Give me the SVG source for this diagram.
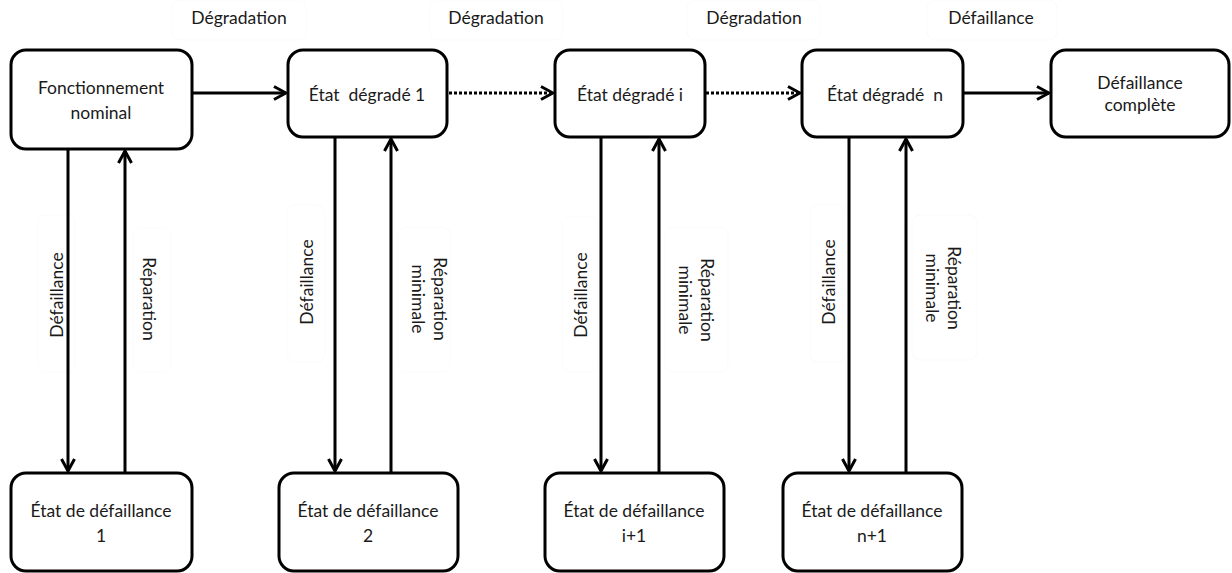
<svg xmlns="http://www.w3.org/2000/svg" width="1232" height="573" viewBox="0 0 1232 573">
  <defs>
    <marker id="head" markerUnits="userSpaceOnUse" markerWidth="16" markerHeight="16" viewBox="0 0 16 16" refX="14" refY="8" orient="auto">
      <path d="M2,1.5 L14,8 L2,14.5" fill="none" stroke="#000" stroke-width="3" stroke-linejoin="miter"/>
    </marker>
    <style>
      .box { fill: #fff; stroke: #000; stroke-width: 3; }
      .tag { fill: none; stroke: #fbfbfb; stroke-width: 1; }
      .lbl { font-family: Lato, "Liberation Sans", sans-serif; font-size: 17.5px; fill: #1a1a1a; text-anchor: middle; }
      .wire { fill: none; stroke: #000; stroke-width: 3; marker-end: url(#head); }
      .dots { stroke-dasharray: 3 2; }
    </style>
  </defs>

  <rect width="1232" height="573" fill="#fff"/>

  <!-- faint label frames -->
  <g id="label-frames">
    <rect class="tag" x="172" y="0" width="134" height="40" rx="8"/>
    <rect class="tag" x="430" y="0" width="133" height="40" rx="8"/>
    <rect class="tag" x="687" y="0" width="133" height="40" rx="8"/>
    <rect class="tag" x="927" y="0" width="130" height="40" rx="8"/>
    <rect class="tag" x="38" y="215" width="37" height="157" rx="8"/>
    <rect class="tag" x="133" y="228" width="38" height="144" rx="8"/>
    <rect class="tag" x="287" y="205" width="38" height="157" rx="8"/>
    <rect class="tag" x="398" y="227" width="52" height="145" rx="8"/>
    <rect class="tag" x="562" y="217" width="36" height="155" rx="8"/>
    <rect class="tag" x="665" y="227" width="63" height="145" rx="8"/>
    <rect class="tag" x="810" y="205" width="37" height="157" rx="8"/>
    <rect class="tag" x="912" y="215" width="65" height="145" rx="8"/>
  </g>

  <!-- connectors -->
  <g id="connectors">
    <line class="wire" x1="193" y1="93" x2="286" y2="93"/>
    <line class="wire dots" x1="449" y1="93" x2="553" y2="93"/>
    <line class="wire dots" x1="706" y1="93" x2="800" y2="93"/>
    <line class="wire" x1="964" y1="93" x2="1049" y2="93"/>

    <line class="wire" x1="68" y1="150" x2="68" y2="471"/>
    <line class="wire" x1="125" y1="472" x2="125" y2="151"/>
    <line class="wire" x1="335" y1="138" x2="335" y2="471"/>
    <line class="wire" x1="391" y1="472" x2="391" y2="139"/>
    <line class="wire" x1="601" y1="138" x2="601" y2="471"/>
    <line class="wire" x1="659" y1="472" x2="659" y2="139"/>
    <line class="wire" x1="849" y1="138" x2="849" y2="471"/>
    <line class="wire" x1="906" y1="472" x2="906" y2="139"/>
  </g>

  <!-- connector labels -->
  <g id="connector-labels">
    <text class="lbl" x="239" y="24">Dégradation</text>
    <text class="lbl" x="496" y="24">Dégradation</text>
    <text class="lbl" x="754" y="24">Dégradation</text>
    <text class="lbl" x="991" y="24">Défaillance</text>

    <text class="lbl" transform="translate(63,295) rotate(-90)">Défaillance</text>
    <text class="lbl" transform="translate(143,299) rotate(90)">Réparation</text>
    <text class="lbl" transform="translate(313,282) rotate(-90)">Défaillance</text>
    <text class="lbl" transform="translate(434,299) rotate(90)"><tspan x="0" y="0">Réparation</tspan><tspan x="0" y="22">minimale</tspan></text>
    <text class="lbl" transform="translate(587,295) rotate(-90)">Défaillance</text>
    <text class="lbl" transform="translate(701,300) rotate(90)"><tspan x="0" y="0">Réparation</tspan><tspan x="0" y="22">minimale</tspan></text>
    <text class="lbl" transform="translate(835,282) rotate(-90)">Défaillance</text>
    <text class="lbl" transform="translate(948,288) rotate(90)"><tspan x="0" y="0">Réparation</tspan><tspan x="0" y="22">minimale</tspan></text>
  </g>

  <!-- top row states -->
  <g id="nominal">
    <rect class="box" x="11" y="50" width="181" height="99" rx="15"/>
    <text class="lbl" x="101" y="94">Fonctionnement</text>
    <text class="lbl" x="101" y="119">nominal</text>
  </g>
  <g id="degrade-1">
    <rect class="box" x="288" y="50" width="159" height="87" rx="15"/>
    <text class="lbl" x="367" y="101" xml:space="preserve">État  dégradé 1</text>
  </g>
  <g id="degrade-i">
    <rect class="box" x="555" y="50" width="150" height="87" rx="15"/>
    <text class="lbl" x="630" y="101">État dégradé i</text>
  </g>
  <g id="degrade-n">
    <rect class="box" x="802" y="50" width="161" height="87" rx="15"/>
    <text class="lbl" x="885" y="101" xml:space="preserve">État dégradé  n</text>
  </g>
  <g id="defaillance-complete">
    <rect class="box" x="1051" y="50" width="178" height="87" rx="15"/>
    <text class="lbl" x="1140" y="89">Défaillance</text>
    <text class="lbl" x="1140" y="111">complète</text>
  </g>

  <!-- bottom row failure states -->
  <g id="defaillance-1">
    <rect class="box" x="11" y="473" width="181" height="98" rx="15"/>
    <text class="lbl" x="101" y="517">État de défaillance</text>
    <text class="lbl" x="101" y="542">1</text>
  </g>
  <g id="defaillance-2">
    <rect class="box" x="279" y="473" width="179" height="98" rx="15"/>
    <text class="lbl" x="368" y="517">État de défaillance</text>
    <text class="lbl" x="368" y="542">2</text>
  </g>
  <g id="defaillance-i1">
    <rect class="box" x="545" y="473" width="179" height="98" rx="15"/>
    <text class="lbl" x="634" y="517">État de défaillance</text>
    <text class="lbl" x="634" y="542">i+1</text>
  </g>
  <g id="defaillance-n1">
    <rect class="box" x="783" y="473" width="179" height="98" rx="15"/>
    <text class="lbl" x="872" y="517">État de défaillance</text>
    <text class="lbl" x="872" y="542">n+1</text>
  </g>
</svg>
